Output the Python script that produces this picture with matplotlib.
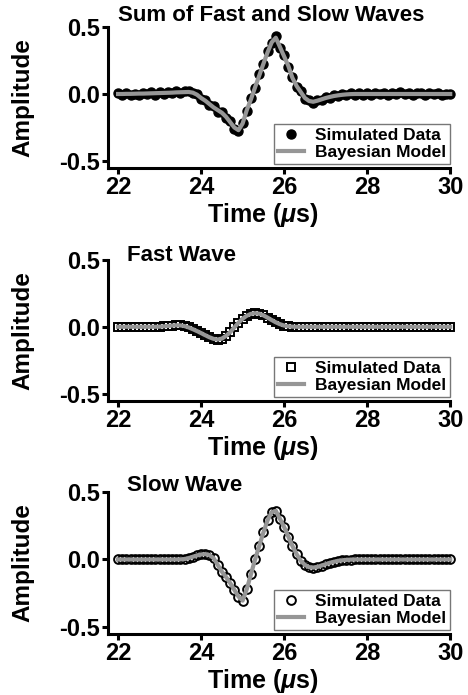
import numpy as np
import matplotlib
matplotlib.use('Agg')
import matplotlib.pyplot as plt

plt.rcParams['font.family'] = 'Liberation Sans'
plt.rcParams['font.weight'] = 'bold'
plt.rcParams['mathtext.fontset'] = 'custom'
plt.rcParams['mathtext.rm'] = 'Liberation Sans:bold'
plt.rcParams['mathtext.it'] = 'Liberation Sans:italic:bold'

# sampling grid (us)
time_us = np.linspace(22.0, 30.0, 81)

# sum of fast and slow waves: noisy simulated data and fitted model
sum_data = [0.004, -0.008, 0.006, -0.005, 0.002, -0.010, 0.009, -0.003, 0.012, -0.004,
            0.015, -0.002, 0.017, 0.004, 0.019, 0.006, 0.020, 0.026, 0.008, -0.002,
            -0.038, -0.045, -0.085, -0.092, -0.131, -0.133, -0.182, -0.205, -0.262, -0.276,
            -0.215, -0.128, -0.030, 0.044, 0.150, 0.222, 0.318, 0.384, 0.432, 0.343,
            0.289, 0.203, 0.129, 0.052, 0.022, -0.038, -0.046, -0.066, -0.044, -0.048,
            -0.022, -0.030, -0.008, -0.017, 0.002, -0.009, 0.006, -0.007, 0.008, -0.004,
            0.007, -0.006, 0.010, -0.002, 0.005, -0.008, 0.011, 0.003, 0.014, -0.003,
            0.009, -0.006, 0.004, 0.010, -0.005, 0.007, -0.002, 0.006, -0.007, 0.003,
            -0.002]
sum_model = [0.000, 0.000, 0.001, 0.001, 0.002, 0.003, 0.003, 0.004, 0.005, 0.006,
             0.007, 0.008, 0.009, 0.010, 0.012, 0.013, 0.014, 0.015, 0.010, -0.005,
             -0.030, -0.050, -0.075, -0.100, -0.120, -0.140, -0.170, -0.210, -0.250, -0.270,
             -0.220, -0.120, -0.040, 0.050, 0.137, 0.225, 0.310, 0.385, 0.420, 0.350,
             0.280, 0.210, 0.120, 0.060, 0.015, -0.030, -0.052, -0.058, -0.050, -0.040,
             -0.030, -0.022, -0.015, -0.010, -0.006, -0.003, -0.001, 0.000, 0.000, 0.000,
             0.000, 0.000, 0.000, 0.000, 0.000, 0.000, 0.000, 0.000, 0.000, 0.000,
             0.000, 0.000, 0.000, 0.000, 0.000, 0.000, 0.000, 0.000, 0.000, 0.000,
             0.000]

# fast wave
fast_data = [0.000, 0.000, 0.000, 0.000, 0.000, 0.000, 0.000, 0.000, 0.000, 0.000,
             0.001, 0.003, 0.006, 0.009, 0.011, 0.010, 0.005, -0.005, -0.018, -0.032,
             -0.047, -0.063, -0.078, -0.090, -0.095, -0.088, -0.068, -0.040, -0.005, 0.030,
             0.060, 0.082, 0.096, 0.101, 0.097, 0.085, 0.068, 0.050, 0.033, 0.019,
             0.009, 0.003, 0.001, 0.000, 0.000, 0.000, 0.000, 0.000, 0.000, 0.000,
             0.000, 0.000, 0.000, 0.000, 0.000, 0.000, 0.000, 0.000, 0.000, 0.000,
             0.000, 0.000, 0.000, 0.000, 0.000, 0.000, 0.000, 0.000, 0.000, 0.000,
             0.000, 0.000, 0.000, 0.000, 0.000, 0.000, 0.000, 0.000, 0.000, 0.000,
             0.000]
fast_model = fast_data

# slow wave
slow_data = [0.000, 0.000, 0.000, 0.000, 0.000, 0.000, 0.000, 0.000, 0.000, 0.000,
             0.000, 0.000, 0.000, 0.000, 0.000, 0.001, 0.003, 0.010, 0.020, 0.030,
             0.037, 0.040, 0.033, 0.010, -0.040, -0.090, -0.130, -0.175, -0.225, -0.275,
             -0.305, -0.220, -0.110, 0.000, 0.100, 0.200, 0.290, 0.350, 0.360, 0.300,
             0.240, 0.170, 0.100, 0.040, -0.010, -0.040, -0.057, -0.060, -0.055, -0.045,
             -0.035, -0.025, -0.017, -0.010, -0.006, -0.003, -0.001, 0.000, 0.000, 0.000,
             0.000, 0.000, 0.000, 0.000, 0.000, 0.000, 0.000, 0.000, 0.000, 0.000,
             0.000, 0.000, 0.000, 0.000, 0.000, 0.000, 0.000, 0.000, 0.000, 0.000,
             0.000]
slow_model = slow_data

xticks = [22, 24, 26, 28, 30]
yticks = [-0.5, 0.0, 0.5]
model_color = '#969696'


def panel(ax, data, model, mstyle, title, tx, ty):
    ax.plot(time_us, data, linestyle='none', label='Simulated Data',
            zorder=2, clip_on=False, **mstyle)
    ax.plot(time_us, model, color=model_color, lw=3.0, label='Bayesian Model',
            zorder=3, clip_on=False)
    ax.set_xlim(21.76, 30)
    ax.set_ylim(-0.552, 0.5)
    ax.set_xticks(xticks)
    ax.set_yticks(yticks)
    ax.set_yticklabels(['-0.5', '0.0', '0.5'])
    for s in ['top', 'right']:
        ax.spines[s].set_visible(False)
    for s in ['left', 'bottom']:
        ax.spines[s].set_linewidth(2.2)
    ax.tick_params(direction='out', length=4.5, width=2.2, labelsize=17, pad=1.5)
    ax.set_xlabel(r'Time ($\mu$s)', fontsize=18, fontweight='bold')
    ax.xaxis.set_label_coords(0.453, -0.232)
    ax.set_ylabel('Amplitude', fontsize=17.5, fontweight='bold')
    ax.yaxis.set_label_coords(-0.215, 0.5)
    ax.text(tx, ty, title, transform=ax.transAxes, fontsize=16,
            fontweight='bold', va='baseline', ha='left')
    leg = ax.legend(loc='lower right', bbox_to_anchor=(1.0, 0.025), fontsize=12.5,
                    fancybox=False, framealpha=1, edgecolor='#777777',
                    handlelength=1.5, handletextpad=0.6, borderpad=0.25,
                    labelspacing=0.1, borderaxespad=0)
    leg.get_frame().set_linewidth(1.0)
    for txt in leg.get_texts():
        txt.set_fontweight('bold')


fig = plt.figure(figsize=(4.68, 6.95), dpi=100)
ax1 = fig.add_axes([0.231, 0.7583, 0.731, 0.2029])
ax2 = fig.add_axes([0.231, 0.4230, 0.731, 0.2036])
ax3 = fig.add_axes([0.231, 0.0878, 0.731, 0.2043])

panel(ax1, sum_data, sum_model,
      dict(marker='o', ms=6.5, mfc='black', mec='black'),
      'Sum of Fast and Slow Waves', 0.03, 1.04)
panel(ax2, fast_data, fast_model,
      dict(marker='s', ms=5.2, mfc='none', mec='black', mew=1.4),
      'Fast Wave', 0.056, 0.99)
panel(ax3, slow_data, slow_model,
      dict(marker='o', ms=6.3, mfc='none', mec='black', mew=1.4),
      'Slow Wave', 0.056, 1.005)

fig.savefig('out.png', dpi=100)
